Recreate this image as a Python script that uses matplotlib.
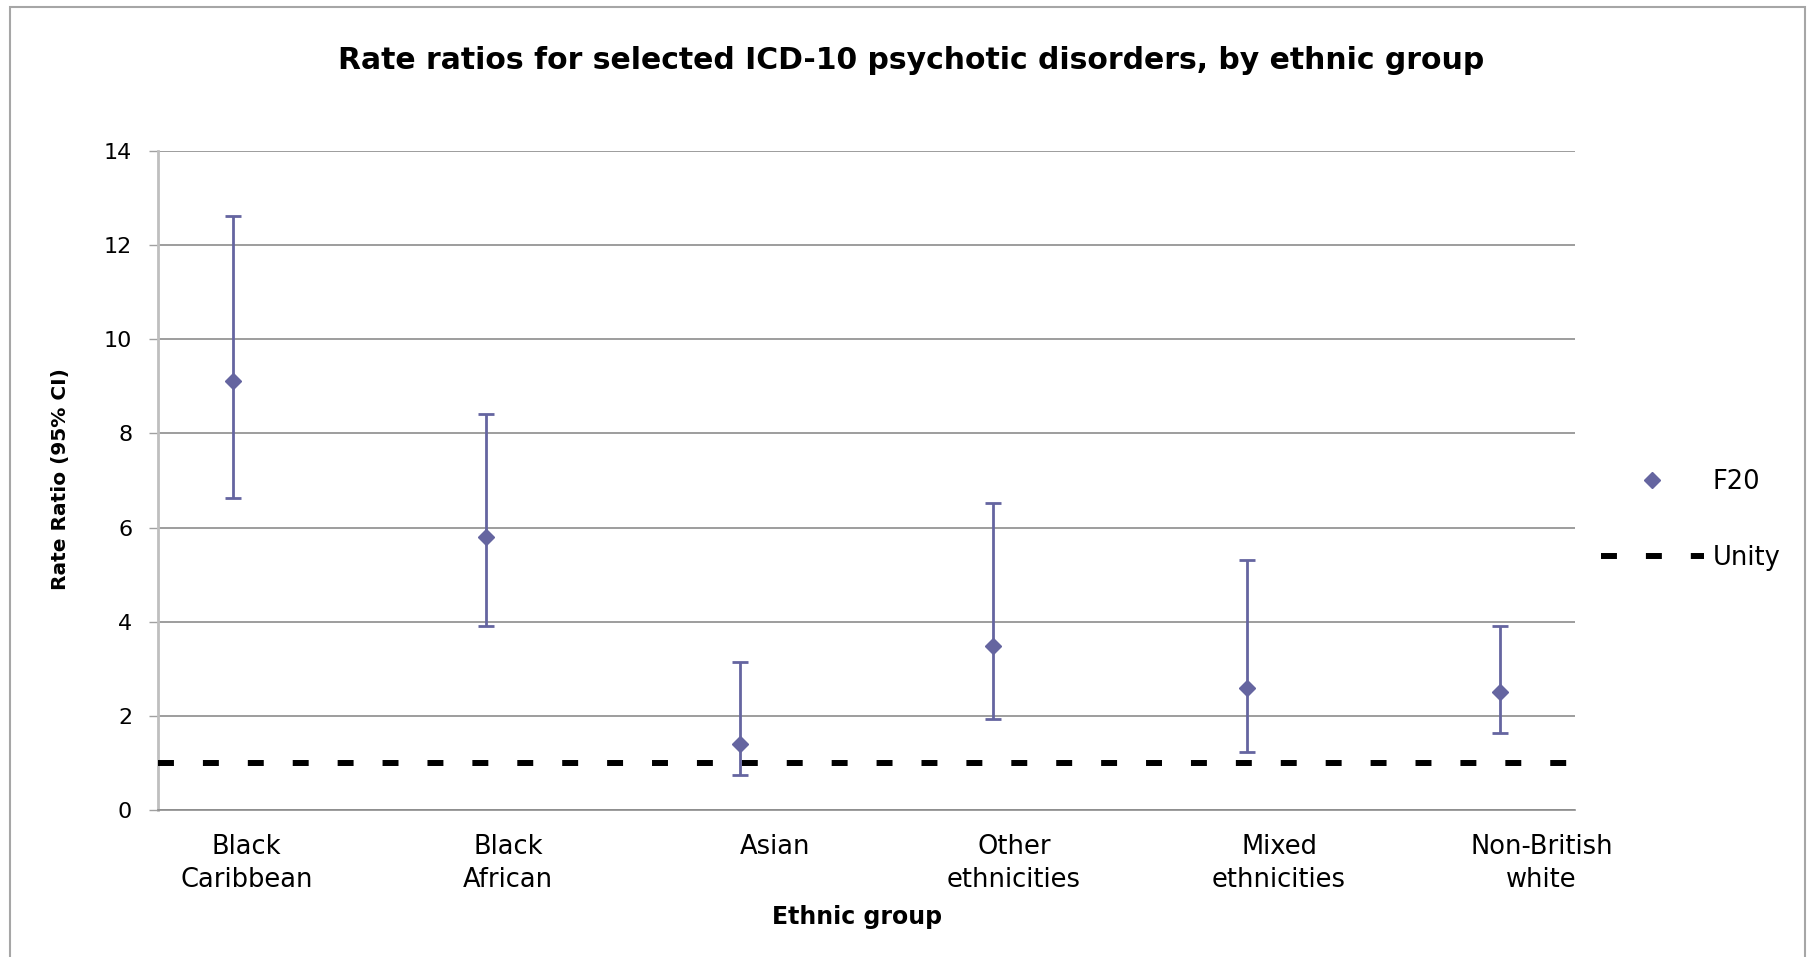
import matplotlib.pyplot as plt
import matplotlib
from matplotlib.lines import Line2D
from matplotlib.patches import Rectangle
import matplotlib.transforms as mtransforms

matplotlib.rc('font', family='DejaVu Sans')

groups = ['Black\nCaribbean', 'Black\nAfrican', 'Asian', 'Other\nethnicities',
          'Mixed\nethnicities', 'Non-British\nwhite']
rate_ratio = [9.12, 5.81, 1.40, 3.48, 2.60, 2.50]
ci_lower = [6.62, 3.90, 0.74, 1.94, 1.23, 1.64]
ci_upper = [12.63, 8.41, 3.14, 6.52, 5.32, 3.90]
unity = 1
y_ticks = [0, 2, 4, 6, 8, 10, 12, 14]

point_color = '#6565a0'
dash_pat = [2.67, 4.85]

fig = plt.figure(figsize=(18.09, 9.57), dpi=100)
ax = fig.add_axes([0.0873, 0.1536, 0.7833, 0.6886])

x = list(range(1, len(groups) + 1))
err_low = [r - lo for r, lo in zip(rate_ratio, ci_lower)]
err_high = [hi - r for r, hi in zip(rate_ratio, ci_upper)]

ax.errorbar(x, rate_ratio, yerr=[err_low, err_high], fmt='D', color=point_color,
            ecolor=point_color, elinewidth=2, capsize=6, capthick=2,
            markersize=8.5, zorder=4)
ax.axhline(unity, color='black', linewidth=4.3, dashes=dash_pat, zorder=3)

ax.set_xlim(0.705, 6.295)
ax.set_ylim(0, 14)
ax.set_yticks(y_ticks)
ax.set_yticklabels([str(t) for t in y_ticks], fontsize=16)
ax.grid(axis='y', color='#8c8c8c', linewidth=1.2)
ax.set_axisbelow(True)
ax.tick_params(axis='y', length=6.5, width=1, color='#a0a0a0', pad=12)

# category labels, a little off the point positions as in the original
label_shift = [0.055, 0.087, 0.141, 0.082, 0.128, 0.164]
ax.set_xticks([])
trans = mtransforms.blended_transform_factory(ax.transData, fig.transFigure)
for xi, g, s in zip(x, groups, label_shift):
    ax.text(xi + s, 0.129, g, transform=trans, ha='center', va='top',
            fontsize=18.5, linespacing=1.37)

for side in ['top', 'right']:
    ax.spines[side].set_visible(False)
ax.spines['left'].set_color('#bfbfbf')
ax.spines['left'].set_linewidth(2)
ax.spines['bottom'].set_color('#8c8c8c')
ax.spines['bottom'].set_linewidth(1.2)

fig.text(0.5036, 0.937, 'Rate ratios for selected ICD-10 psychotic disorders, by ethnic group',
         ha='center', va='center', fontsize=21.5, fontweight='bold')
fig.text(0.0337, 0.4995, 'Rate Ratio (95% CI)', rotation=90, ha='center', va='center',
         fontsize=14.5, fontweight='bold')
fig.text(0.4737, 0.0418, 'Ethnic group', ha='center', va='center',
         fontsize=17, fontweight='bold')

handles = [Line2D([], [], marker='D', linestyle='none', color=point_color, markersize=8.5),
           Line2D([], [], color='black', linewidth=4.3, dashes=dash_pat)]
fig.legend(handles, ['F20', 'Unity'], loc='center left', bbox_to_anchor=(0.885, 0.4568),
           frameon=False, fontsize=18.5, handlelength=4.0, handletextpad=0.35,
           borderpad=0, borderaxespad=0, labelspacing=1.96)

# chart area border
fig.add_artist(Rectangle((0.0055, -0.05), 0.9925, 1.0427, transform=fig.transFigure,
                         fill=False, edgecolor='#a6a6a6', linewidth=1.5))

plt.savefig('out.png', dpi=100)
plt.close()
